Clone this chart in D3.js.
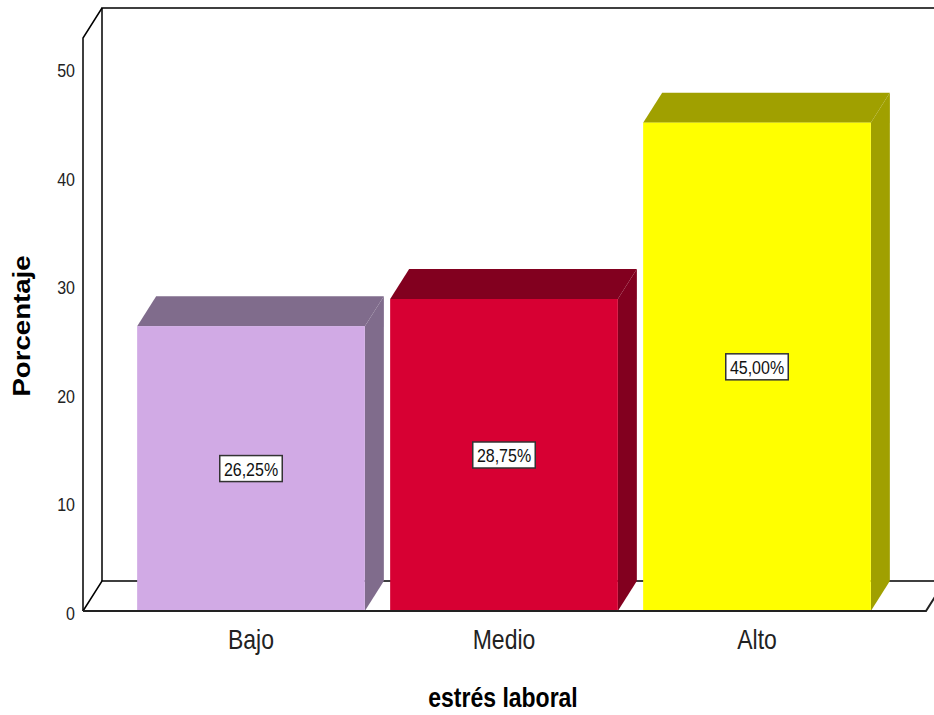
<!DOCTYPE html>
<html>
<head>
<meta charset="utf-8">
<script src="https://cdn.jsdelivr.net/npm/d3@7"></script>
<style>
  body { margin: 0; background: #fff; }
  text { font-family: "Liberation Sans", Arial, sans-serif; }
</style>
</head>
<body>
<div id="chart"></div>
<script>
// data
const categories = ['Bajo', 'Medio', 'Alto'];
const percents = [26.25, 28.75, 45.00];
const frontColors = ['#d1aae5', '#d70033', '#ffff00'];
const sideColors = ['#806c8c', '#82001f', '#a0a000'];
const yTicks = [0, 10, 20, 30, 40, 50];

const W = 934, H = 715;
const dx = 19, dy = -30; // depth offset
const stretch = 1.2;     // text in the source looks taller than wide

const svg = d3.select('#chart').append('svg')
  .attr('width', W).attr('height', H);

const y = d3.scaleLinear().domain([0, 52.8]).range([611, 38]);
const x = d3.scaleBand().domain(categories)
  .range([124.5, 883.5]).paddingInner(0.1).paddingOuter(0.05);

const x0 = 83, xEnd = 926, y0 = y(0), yTop = y(52.8);

// back wall + floor
const frame = svg.append('g').attr('fill', 'none').attr('stroke', '#000').attr('stroke-width', 1.5);
frame.append('path').attr('d', `M${x0 + dx},${y0 + dy}V${yTop + dy}H${W + 5}`);
frame.append('path').attr('d', `M${x0},${y0}V${yTop}L${x0 + dx},${yTop + dy}`);
frame.append('path').attr('d', `M${x0},${y0}L${x0 + dx},${y0 + dy}H${W + 5}`);

// bars
const bars = svg.selectAll('g.bar').data(categories).enter().append('g').attr('class', 'bar');
bars.each(function(c, i) {
  const g = d3.select(this);
  const bx = x(c), bw = x.bandwidth(), by = y(percents[i]);
  g.append('path')
    .attr('d', `M${bx},${by}L${bx + dx},${by + dy}H${bx + bw + dx}L${bx + bw},${by}Z`)
    .attr('fill', sideColors[i]);
  g.append('path')
    .attr('d', `M${bx + bw},${by}L${bx + bw + dx},${by + dy}V${y0 + dy}L${bx + bw},${y0}Z`)
    .attr('fill', sideColors[i]);
  g.append('rect')
    .attr('x', bx).attr('y', by).attr('width', bw).attr('height', y0 - by)
    .attr('fill', frontColors[i]);

  const label = d3.format('.2f')(percents[i]).replace('.', ',') + '%';
  const cx = bx + bw / 2, cy = (by + y0) / 2;
  const t = g.append('text')
    .attr('transform', `translate(${cx},${cy + 7}) scale(1,${stretch})`)
    .attr('text-anchor', 'middle')
    .attr('font-size', 16)
    .attr('fill', '#111')
    .text(label);
  const bw2 = t.node().getBBox().width;
  g.insert('rect', 'text')
    .attr('x', cx - bw2 / 2 - 4).attr('y', cy - 13).attr('width', bw2 + 8).attr('height', 26)
    .attr('fill', '#fff').attr('stroke', '#333').attr('stroke-width', 1.5);
});

// front floor edge
svg.append('path')
  .attr('d', `M${x0},${y0}H${xEnd}L${xEnd + dx},${y0 + dy}`)
  .attr('fill', 'none').attr('stroke', '#222').attr('stroke-width', 2);

// y tick labels
svg.selectAll('text.ytick').data(yTicks).enter().append('text')
  .attr('class', 'ytick')
  .attr('transform', d => `translate(75,${y(d) + 9}) scale(1,${stretch})`)
  .attr('text-anchor', 'end')
  .attr('font-size', 16)
  .attr('fill', '#222')
  .text(d => d);

// category labels
svg.selectAll('text.xcat').data(categories).enter().append('text')
  .attr('class', 'xcat')
  .attr('transform', d => `translate(${x(d) + x.bandwidth() / 2},649) scale(1,${stretch})`)
  .attr('text-anchor', 'middle')
  .attr('font-size', 23)
  .attr('fill', '#222')
  .text(d => d);

// axis titles
svg.append('text')
  .attr('transform', `translate(503,707) scale(1,${stretch})`)
  .attr('text-anchor', 'middle')
  .attr('font-size', 23).attr('font-weight', 'bold')
  .text('estrés laboral');

svg.append('text')
  .attr('transform', `translate(30,326) rotate(-90) scale(${stretch},1)`)
  .attr('text-anchor', 'middle')
  .attr('font-size', 23).attr('font-weight', 'bold')
  .text('Porcentaje');
</script>
</body>
</html>
